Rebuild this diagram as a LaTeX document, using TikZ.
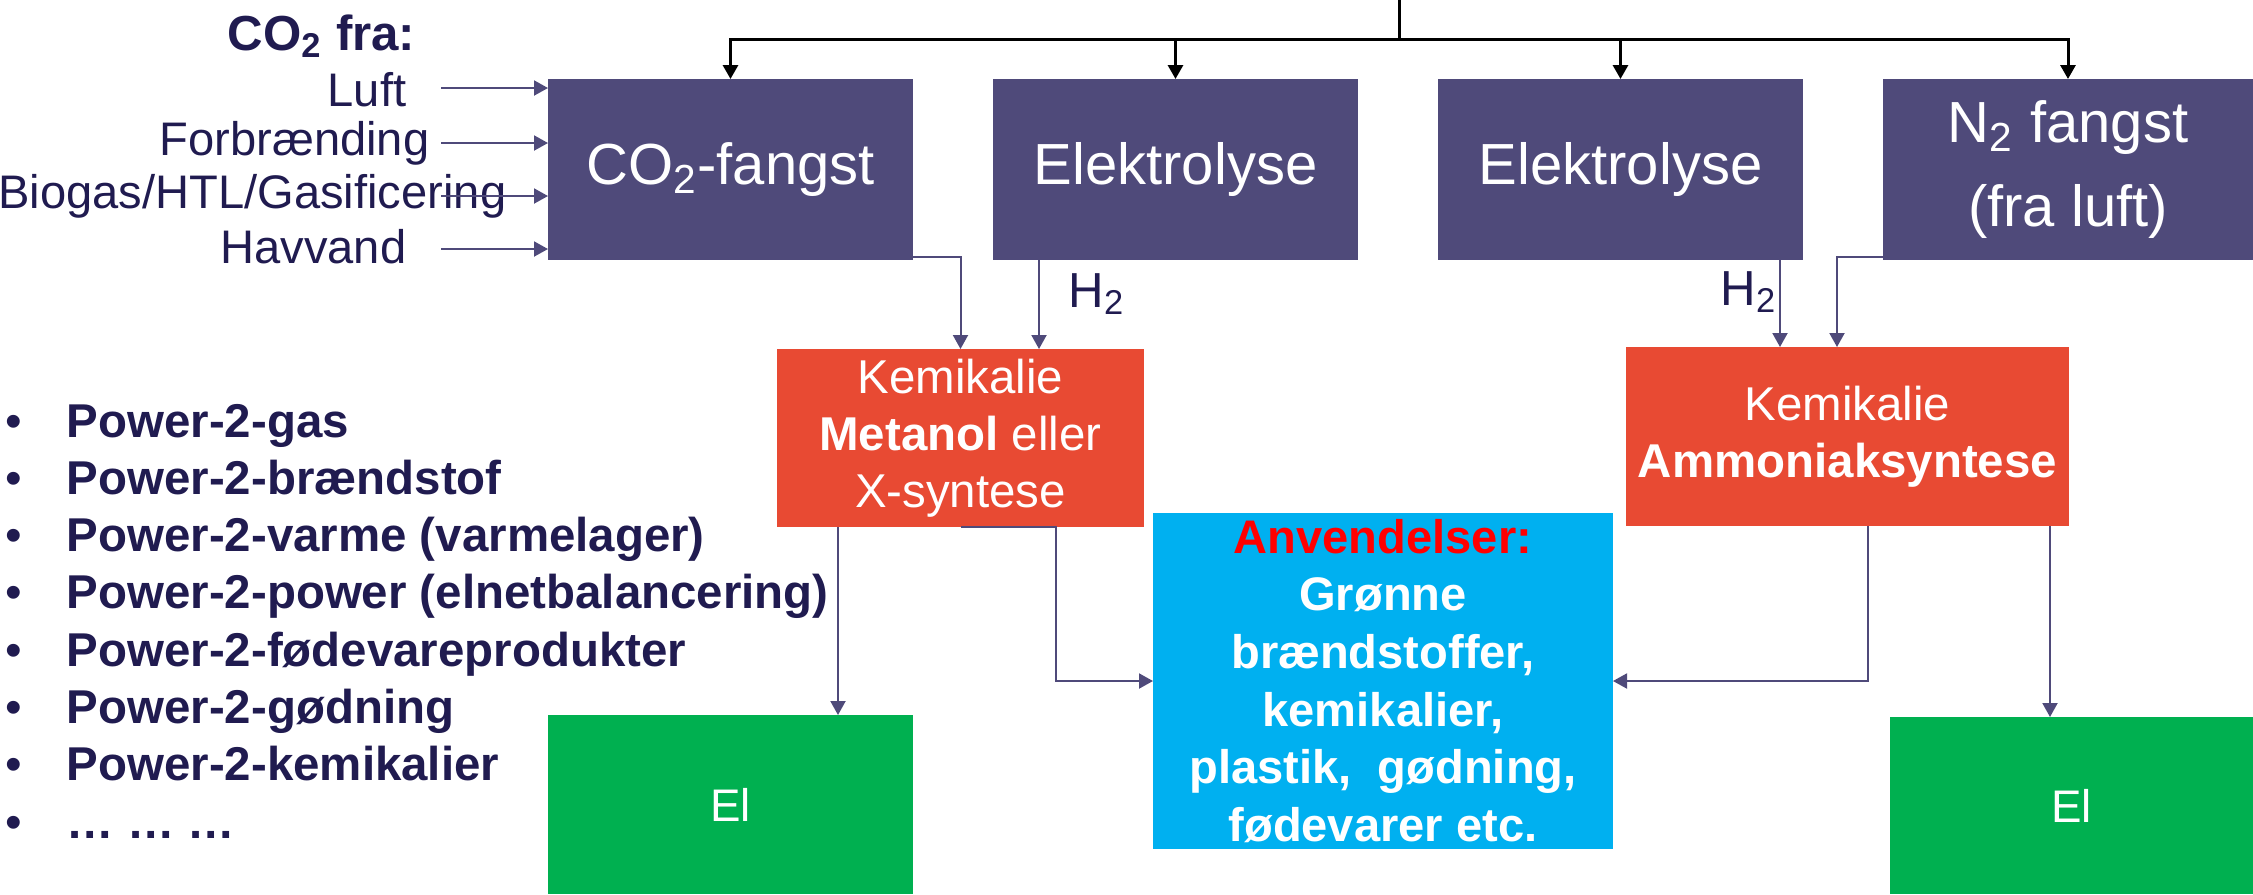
\documentclass[tikz,border=0pt]{standalone}
\usepackage{fontspec}
\setmainfont{Liberation Sans}
\usepackage{tikz}
\usetikzlibrary{positioning, calc, arrows.meta}

\definecolor{boxpurple}{HTML}{4F4A7A}
\definecolor{linepurple}{HTML}{4F4A7A}
\definecolor{navytext}{HTML}{201B50}
\definecolor{chemred}{HTML}{E84A33}
\definecolor{anvblue}{HTML}{00B0F0}
\definecolor{elgreen}{HTML}{00B050}

\begin{document}
\begin{tikzpicture}[node distance=0.8cm,>={Triangle[length=0.14cm,width=0.15cm]},
    procbox/.style={fill=boxpurple, text=white, minimum width=3.65cm, minimum height=1.81cm,
      inner sep=0, outer sep=0, align=center, font=\fontsize{16.5}{23.9}\selectfont},
    chembox/.style={fill=chemred, text=white, inner sep=0, outer sep=0, align=center,
      font=\fontsize{13.5}{16.2}\selectfont},
    usebox/.style={fill=anvblue, text=white, inner sep=0, outer sep=0, align=center,
      minimum width=4.60cm, minimum height=3.36cm, font=\fontsize{13.4}{16.4}\selectfont\bfseries},
    elbox/.style={fill=elgreen, text=white, inner sep=0, outer sep=0,
      minimum height=1.79cm, font=\fontsize{13}{15.6}\selectfont},
    srclabel/.style={text=navytext, inner sep=0, font=\fontsize{13.4}{16}\selectfont},
    listitem/.style={text=navytext, inner sep=0, font=\fontsize{13.5}{16}\selectfont\bfseries},
    feed/.style={draw=black, line width=0.03cm},
    flow/.style={->, draw=linepurple, line width=0.02cm}]
      \useasboundingbox (0,0) rectangle (22.53,-8.94);
      %
      \node[procbox] (co2fangst) at (7.305,-1.695) {CO\textsubscript{2}-fangst};
      \node[procbox, right = of co2fangst] (elyA) {Elektrolyse};
      \node[procbox, right = of elyA] (elyB) {Elektrolyse};
      \node[procbox, right = of elyB, minimum width=3.70cm] (n2) {N\textsubscript{2} fangst\\(fra luft)};
      %
      \node[chembox, minimum width=3.67cm, minimum height=1.78cm] (metanol) at (9.605,-4.38)
        {Kemikalie\\\textbf{Metanol} eller\\X-syntese};
      \node[chembox, minimum width=4.43cm, minimum height=1.79cm] (ammonia) at (18.475,-4.365)
        {Kemikalie\\\textbf{Ammoniaksyntese}};
      \node[usebox] (anv) at (13.83,-6.81)
        {\textcolor{red}{Anvendelser:}\\Grønne\\brændstoffer,\\kemikalier,\\plastik,\ \ gødning,\\fødevarer etc.};
      \node[elbox, minimum width=3.65cm] (elA) at (7.305,-8.045) {El};
      \node[elbox, minimum width=3.63cm, minimum height=1.77cm] (elB) at (20.715,-8.055) {El};
      %
      \node[srclabel, anchor=base east, font=\fontsize{14}{16.8}\selectfont\bfseries] (co2fra) at (4.16,-0.50) {CO\textsubscript{2} fra:};
      \node[srclabel, anchor=base east] (luft) at (4.07,-1.06) {Luft};
      \node[srclabel, anchor=base east] (forb) at (4.30,-1.55) {Forbrænding};
      \node[srclabel, anchor=base east] (biogas) at (5.07,-2.08) {Biogas/HTL/Gasificering};
      \node[srclabel, anchor=base east] (havvand) at (4.07,-2.63) {Havvand};
      %
      \node[srclabel, anchor=base west, font=\fontsize{14}{16.8}\selectfont] (h2a) at (10.68,-3.07) {H\textsubscript{2}};
      \node[srclabel, anchor=base west, font=\fontsize{14}{16.8}\selectfont] (h2b) at (17.20,-3.05) {H\textsubscript{2}};
      %
      \foreach \txt [count=\nr] in {Power-2-gas, Power-2-brændstof, Power-2-varme (varmelager),
          Power-2-power (elnetbalancering), Power-2-fødevareprodukter, Power-2-gødning,
          Power-2-kemikalier, … … …}
        \node[listitem, anchor=base west] (p2x\nr) at (0.05,{-4.37-0.573*(\nr-1)})
          {\makebox[0.61cm][l]{\mdseries •}\txt};
      %
      \coordinate (feedtop) at (13.99,0);
      \coordinate (bus) at (13.99,-0.39);
      \draw[feed] (feedtop) -- (bus);
      \foreach \dest in {co2fangst, elyA, elyB, n2}
        \draw[feed,->] (bus) -| (\dest.north);
      %
      \foreach \src/\yy in {luft/0.88, forb/1.43, biogas/1.96, havvand/2.49} {
        \coordinate (in\src) at (4.41,-\yy);
        \draw[flow] (in\src) -- (in\src -| co2fangst.west);
      }
      %
      \draw[flow] ([yshift=0.03cm]co2fangst.south east) -| (metanol.north);
      \coordinate (fromElyA) at ([xshift=0.46cm]elyA.south west);
      \draw[flow] (fromElyA) -- (fromElyA |- metanol.north);
      \coordinate (fromElyB) at ([xshift=3.42cm]elyB.south west);
      \draw[flow] (fromElyB) -- (fromElyB |- ammonia.north);
      \draw[flow] ([yshift=0.03cm]n2.south west) -| ([xshift=2.11cm]ammonia.north west);
      %
      \coordinate (toElA) at ([xshift=0.61cm]metanol.south west);
      \draw[flow] (toElA) -- (toElA |- elA.north);
      \draw[flow] ([xshift=1.84cm]metanol.south west) -- ([xshift=2.79cm]metanol.south west) |- (anv.west);
      \draw[flow] ([xshift=2.42cm]ammonia.south west) |- (anv.east);
      \coordinate (toElB) at ([xshift=4.24cm]ammonia.south west);
      \draw[flow] (toElB) -- (toElB |- elB.north);
\end{tikzpicture}
\end{document}
